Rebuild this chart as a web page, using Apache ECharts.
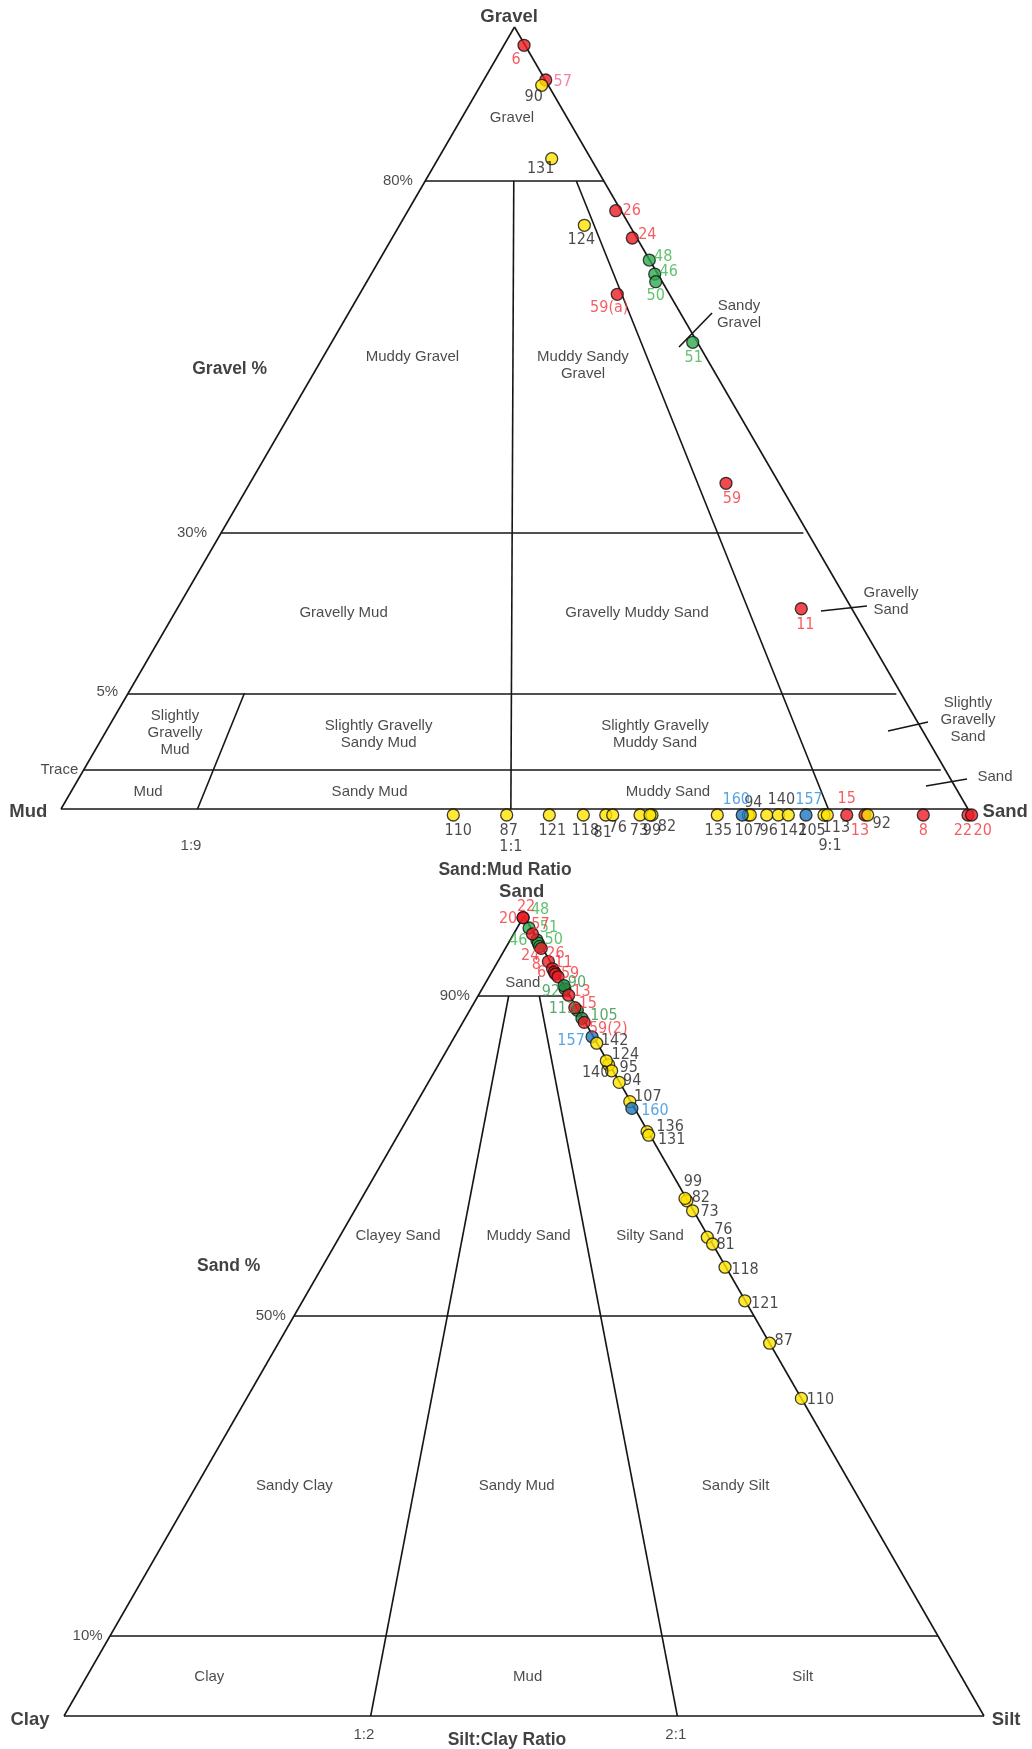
<!DOCTYPE html>
<html>
<head>
<meta charset="utf-8">
<title>Folk classification of bottom sediments</title>
<script src="https://cdn.jsdelivr.net/npm/echarts@6/dist/echarts.min.js"></script>
<style>
  html, body { margin: 0; padding: 0; background: #ffffff; }
  #chart { width: 1032px; height: 1749px; }
</style>
</head>
<body>
<div id="chart"></div>
<script>
// ---------------------------------------------------------------------------
// Gravel – sand – mud samples (upper diagram, Folk scheme).
// x: position along the sand:mud base (0 = mud corner, 100 = sand corner)
// y: height on the schematic gravel axis (0 = base, 100 = gravel apex)
// ---------------------------------------------------------------------------
const gsmSample = ['6','57','90','131','26','124','24','48','46','50','59(a)','51','59','11',
  '110','87','121','118','81','76','73','82','99','135','107','94','160','96','140','142','157',
  '105','113','15','13','92','8','22','20'];
const gsmX = [51.05, 53.44, 53.0, 54.1, 61.16, 57.7, 62.99, 64.86, 65.46, 65.57, 61.33, 69.65, 73.32, 81.62,
  43.25, 49.14, 53.84, 57.59, 60.06, 60.83, 63.84, 65.16, 64.94, 72.36, 75.78, 76.0, 75.11, 77.81, 79.09, 80.19, 82.14,
  84.12, 84.49, 86.63, 88.64, 88.94, 95.07, 100.0, 100.4];
const gsmY = [97.66, 93.22, 92.54, 83.16, 76.51, 74.64, 73.02, 70.2, 68.41, 67.43, 65.82, 59.68, 41.65, 25.61,
  0, 0, 0, 0, 0, 0, 0, 0, 0, 0, 0, 0, 0, 0, 0, 0, 0,
  0, 0, 0, 0, 0, 0, 0, 0];
const gsmGroup = ['red','red','yellow','yellow','red','yellow','red','green','green','green','red','green','red','red',
  'yellow','yellow','yellow','yellow','yellow','yellow','yellow','yellow','yellow','yellow','yellow','yellow','blue','yellow','yellow','yellow','blue',
  'yellow','yellow','red','red','yellow','red','red','red'];

// Schematic gravel boundaries and sand:mud ratio boundaries
const gravelLevels = ['80%', '30%', '5%', 'Trace'];
const gravelLevelHeights = [80.3, 35.3, 14.8, 5.0];
const sandMudRatios = ['1:9', '1:1', '9:1'];
const sandMudBasePos = [15.05, 49.6, 84.6];
const sandMudTopLevel = [14.8, 80.3, 80.3];

// ---------------------------------------------------------------------------
// Sand – silt – clay samples (lower diagram, true ternary), percentages
// ---------------------------------------------------------------------------
const sscSample = ['48','51','46','50','22','20','57','24','26','11','8','6','59','92','90','13','113','15','105','59(2)',
  '157','142','140','124','95','94','107','160','136','131','82','99','73','76','81','118','121','87','110'];
const sscSand = [98.5, 97.0, 96.6, 96.2, 99.8, 99.8, 97.75, 95.95, 94.3, 93.4, 93.0, 92.75, 92.4, 90.9, 91.3, 90.1, 88.2, 88.55, 87.2, 86.7,
  84.9, 84.1, 81.4, 81.9, 80.65, 79.2, 76.8, 75.95, 73.05, 72.6, 64.4, 64.7, 63.15, 59.85, 59.0, 56.1, 51.9, 46.6, 39.7];
const sscClay = [0.2, 0.1, 0.15, 0.2, 0.2, 0.2, 0.2, 0.15, 0.2, 0.2, 0.2, 0.2, 0.1, 0.1, 0.0, 0.1, 0.1, 0.2, 0.1, 0.1,
  0.15, 0.05, 0.1, 0.1, 0.15, 0.05, 0.1, 0.3, 0.1, 0.15, 0.1, 0.15, 0.1, 0.15, 0.0, 0.1, 0.05, 0.0, 0.0];
const sscGroup = ['green','green','green','green','red','red','red','red','red','red','red','red','red','darkgreen','darkgreen','red','darkgreen','red','darkgreen','red',
  'blue','yellow','yellow','yellow','yellow','yellow','yellow','blue','yellow','yellow','yellow','yellow','yellow','yellow','yellow','yellow','yellow','yellow','yellow'];

const sandLevels = ['90%', '50%', '10%'];
const sandLevelValues = [90, 50, 10];
const siltClayRatios = ['1:2', '2:1'];
const siltFractionOfMud = [1 / 3, 2 / 3];

// ---------------------------------------------------------------------------
// Styling
// ---------------------------------------------------------------------------
const TEXT_FONT = "'Liberation Sans', Arial, Helvetica, sans-serif";
const NUM_FONT = "'Liberation Sans Narrow', 'DejaVu Sans Condensed', 'Arial Narrow', sans-serif";
const INK = '#1f1b1c';
const fillColor = { red: '#ec1c24', yellow: '#ffe400', green: '#2eaa4e', darkgreen: '#1f8a40', blue: '#1f78c1' };
const labelColor = { red: '#f2353b', yellow: INK, green: '#3bb34c', darkgreen: '#2f9447', blue: '#2e8fdd' };
const labelColorOverrideUpper = { '57': '#f2609f' };

// sample label offsets (px, from the symbol centre)
const upperLabelOffset = {
  '6': [-8, 15], '57': [17, 2], '90': [-8, 12], '131': [-11, 10], '26': [16, 0], '124': [-3, 15], '24': [15, -3],
  '48': [14, -3], '46': [14, -2], '50': [0, 14], '59(a)': [-8, 14], '51': [1, 16], '59': [6, 16], '11': [4, 16],
  '110': [5, 16], '87': [2, 16], '121': [3, 16], '118': [2, 16], '81': [-3, 18], '76': [5, 13], '73': [-1, 16],
  '82': [15, 12], '99': [2, 16], '135': [1, 16], '107': [0, 16], '94': [3, -12], '160': [-6, -15], '96': [2, 16],
  '140': [3, -15], '142': [5, 16], '157': [3, -15], '105': [-12, 16], '113': [9, 13], '15': [0, -16], '13': [-5, 16],
  '92': [14, 9], '8': [0, 16], '22': [-5, 16], '20': [11, 16]
};
const lowerLabelOffset = {
  '48': [11, -18], '51': [12, -12], '46': [-20, -2], '50': [14, -7], '22': [3, -11], '20': [-15, 1], '57': [8, -9],
  '24': [-11, 7], '26': [7, -8], '11': [11, -6], '8': [-18, -7], '6': [-14, -1], '59': [12, -3], '92': [-14, 3],
  '90': [13, -3], '13': [13, -3], '113': [-15, -2], '15': [13, -4], '105': [22, -3], '59(2)': [24, 6], '157': [-21, 4],
  '142': [18, -2], '140': [-13, 8], '124': [19, -6], '95': [17, -3], '94': [13, -2], '107': [18, -5], '160': [23, 2],
  '136': [23, -5], '131': [23, 5], '82': [14, -3], '99': [8, -17], '73': [17, 1], '76': [16, -7], '81': [13, 1],
  '118': [20, 3], '121': [20, 3], '87': [14, -2], '110': [19, 1]
};

const textStyles = {
  corner: { fontFamily: TEXT_FONT, fontSize: 18.5, fontWeight: 'bold', color: '#111' },
  title:  { fontFamily: TEXT_FONT, fontSize: 17.5, fontWeight: 'bold', color: '#111' },
  region: { fontFamily: TEXT_FONT, fontSize: 15, color: '#1c1c1c', lineHeight: 17 },
  tick:   { fontFamily: TEXT_FONT, fontSize: 15, color: '#1c1c1c', align: 'right' },
  tickc:  { fontFamily: TEXT_FONT, fontSize: 15, color: '#1c1c1c' },
  ratio:  { fontFamily: NUM_FONT, fontSize: 16, color: INK }
};

// text placement (diagram units)
const upperText = [
  ['Gravel', 49.4, 101.3, 'corner'], ['Mud', -3.6, -0.4, 'corner'], ['Sand', 104.1, -0.35, 'corner'],
  ['Gravel %', 18.6, 56.3, 'title'], ['Sand:Mud Ratio', 48.95, -7.8, 'title'],
  ['80%', 38.8, 80.3, 'tick'], ['30%', 16.1, 35.3, 'tick'], ['5%', 6.3, 15.0, 'tick'], ['Trace', 1.9, 5.0, 'tick'],
  ['1:9', 14.33, -4.69, 'tickc'], ['1:1', 49.6, -4.86, 'ratio'], ['9:1', 84.79, -4.69, 'ratio'],
  ['Gravel', 49.72, 88.36, 'region'], ['Muddy Gravel', 38.75, 57.84, 'region'],
  ['Muddy Sandy\nGravel', 57.55, 56.78, 'region'], ['Sandy\nGravel', 74.75, 63.24, 'region'],
  ['Gravelly Mud', 31.16, 25.06, 'region'], ['Gravelly Muddy Sand', 63.51, 25.06, 'region'],
  ['Gravelly\nSand', 91.51, 26.53, 'region'], ['Slightly\nGravelly\nMud', 12.57, 9.72, 'region'],
  ['Slightly Gravelly\nSandy Mud', 35.02, 9.55, 'region'], ['Slightly Gravelly\nMuddy Sand', 65.49, 9.53, 'region'],
  ['Slightly\nGravelly\nSand', 100.0, 11.45, 'region'], ['Mud', 9.59, 2.17, 'region'],
  ['Sandy Mud', 34.02, 2.17, 'region'], ['Muddy Sand', 66.92, 2.17, 'region'], ['Sand', 102.98, 4.09, 'region']
];
const upperLeaders = [
  [[68.14, 59.08], [71.78, 63.43]], [[83.79, 25.32], [88.86, 25.96]],
  [[91.18, 9.97], [95.59, 11.13]], [[95.37, 2.94], [99.89, 3.84]]
];
const lowerText = [
  ['Sand', 49.75, 103.0, 'corner'], ['Clay', -3.7, -0.5, 'corner'], ['Silt', 102.4, -0.5, 'corner'],
  ['Sand %', 17.9, 56.25, 'title'], ['Silt:Clay Ratio', 48.15, -3.0, 'title'],
  ['90%', 44.1, 90, 'tick'], ['50%', 24.1, 50, 'tick'], ['10%', 4.2, 10, 'tick'],
  ['1:2', 32.6, -2.4, 'tickc'], ['2:1', 66.5, -2.4, 'tickc'],
  ['Sand', 49.86, 91.6, 'region'], ['Clayey Sand', 36.3, 60, 'region'], ['Muddy Sand', 50.5, 60, 'region'],
  ['Silty Sand', 63.7, 60, 'region'], ['Sandy Clay', 25.05, 28.75, 'region'], ['Sandy Mud', 49.2, 28.75, 'region'],
  ['Sandy Silt', 73.0, 28.75, 'region'], ['Clay', 15.8, 4.9, 'region'], ['Mud', 50.4, 4.9, 'region'],
  ['Silt', 80.3, 4.9, 'region']
];

// ---------------------------------------------------------------------------
// Geometry helpers
// ---------------------------------------------------------------------------
// sand–silt–clay percentages to diagram units (clay corner 0, silt corner 100, sand apex at 50/100)
function ternaryXY(sand, clay) {
  const silt = 100 - sand - clay;
  return [silt + sand / 2, sand];
}

const upperSegments = [
  [[0, 0], [50, 100]], [[50, 100], [100, 0]], [[0, 0], [100, 0]]
];
gravelLevelHeights.forEach((h, i) => {
  const gap = i === 0 ? 0 : 0.5;
  upperSegments.push([[h / 2, h], [100 - h / 2 - gap, h]]);
});
sandMudBasePos.forEach((b, i) => {
  const top = sandMudTopLevel[i];
  upperSegments.push([[b, 0], [b + (50 - b) * top / 100, top]]);
});
upperLeaders.forEach(s => upperSegments.push(s));

const lowerSegments = [
  [[0, 0], [50, 100]], [[50, 100], [100, 0]], [[0, 0], [100, 0]]
];
sandLevelValues.forEach(s => {
  lowerSegments.push([ternaryXY(s, 100 - s), ternaryXY(s, 0)]);
});
siltFractionOfMud.forEach(f => {
  const top = sandLevelValues[0];
  lowerSegments.push([[f * 100, 0], [(100 - top) * f + top / 2, top]]);
});

// ---------------------------------------------------------------------------
// Series builders
// ---------------------------------------------------------------------------
function linesSeries(segments, gi) {
  return {
    type: 'lines', coordinateSystem: 'cartesian2d', xAxisIndex: gi, yAxisIndex: gi,
    polyline: false, silent: true, clip: false, z: 2,
    lineStyle: { color: '#161616', width: 1.6, opacity: 1 },
    data: segments.map(s => ({ coords: s }))
  };
}

function textSeries(entries, gi) {
  return {
    type: 'scatter', xAxisIndex: gi, yAxisIndex: gi, silent: true, clip: false, z: 3,
    symbolSize: 1, itemStyle: { color: 'rgba(0,0,0,0)' },
    label: { show: true, position: 'inside', formatter: '{b}' },
    data: entries.map(([t, x, y, k]) => ({
      name: t, value: [x, y],
      label: Object.assign({ show: true, position: 'inside' }, textStyles[k])
    }))
  };
}

function pointSeries(items, gi) {
  return {
    type: 'scatter', xAxisIndex: gi, yAxisIndex: gi, silent: true, clip: false, z: 4,
    symbol: 'circle', symbolSize: 12,
    label: { show: true, position: 'inside', formatter: '{b}' },
    data: items
  };
}

const upperItems = gsmSample.map((id, i) => {
  const g = gsmGroup[i];
  const onBase = gsmY[i] === 0;
  return {
    name: id, value: [gsmX[i], gsmY[i]],
    symbolOffset: onBase ? [0, 6] : [0, 0],
    itemStyle: { color: fillColor[g], borderColor: '#111', borderWidth: 1.3 },
    label: {
      show: true, position: 'inside', offset: upperLabelOffset[id],
      color: labelColorOverrideUpper[id] || labelColor[g],
      fontFamily: NUM_FONT, fontSize: 16
    }
  };
});

const lowerItems = sscSample.map((id, i) => {
  const g = sscGroup[i];
  return {
    name: id, value: ternaryXY(sscSand[i], sscClay[i]),
    itemStyle: { color: fillColor[g], borderColor: '#111', borderWidth: 1.3 },
    label: {
      show: true, position: 'inside', offset: lowerLabelOffset[id],
      color: labelColor[g], fontFamily: NUM_FONT, fontSize: 16
    }
  };
});

const axisOff = { type: 'value', min: 0, max: 100, show: false };

const chart = echarts.init(document.getElementById('chart'), null, { renderer: 'canvas' });
chart.setOption({
  animation: false,
  backgroundColor: '#ffffff',
  grid: [
    { left: 61, top: 27, width: 907, height: 782 },
    { left: 64, top: 916, width: 920, height: 800 }
  ],
  xAxis: [Object.assign({ gridIndex: 0 }, axisOff), Object.assign({ gridIndex: 1 }, axisOff)],
  yAxis: [Object.assign({ gridIndex: 0 }, axisOff), Object.assign({ gridIndex: 1 }, axisOff)],
  series: [
    linesSeries(upperSegments, 0),
    linesSeries(lowerSegments, 1),
    textSeries(upperText, 0),
    textSeries(lowerText, 1),
    pointSeries(upperItems, 0),
    pointSeries(lowerItems, 1)
  ]
});
</script>
</body>
</html>
